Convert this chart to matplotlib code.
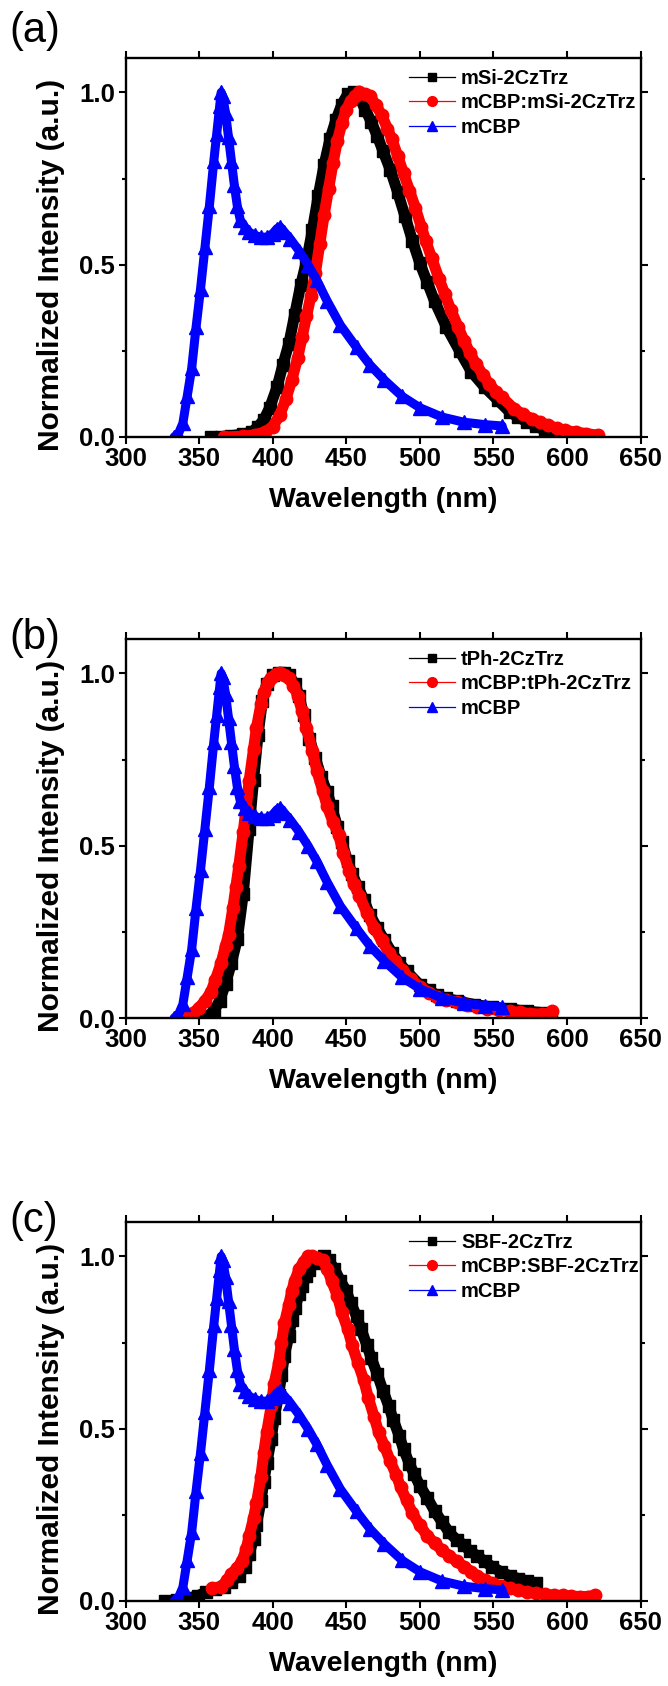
import matplotlib
matplotlib.use("Agg")
import matplotlib.pyplot as plt
from matplotlib.lines import Line2D
from matplotlib.ticker import MultipleLocator, FormatStrFormatter

plt.rcParams['font.family'] = ['Liberation Sans', 'DejaVu Sans']

# mCBP host spectrum (same trace in all three panels)
mcbp_wl = [333, 336, 339, 342, 345, 348, 351, 354, 357, 360, 362, 364, 365, 366, 368,
           370, 372, 374, 376, 378, 381, 384, 388, 392, 396, 400, 403, 405, 408, 412,
           418, 424, 430, 437, 446, 457, 466, 476, 488, 500, 515, 530, 544, 556]
mcbp_int = [0.0, 0.01, 0.04, 0.12, 0.20, 0.32, 0.43, 0.55, 0.67, 0.80, 0.88, 0.96, 1.0, 0.99, 0.94,
            0.87, 0.80, 0.73, 0.67, 0.63, 0.61, 0.595, 0.585, 0.58, 0.58, 0.59, 0.605, 0.61, 0.595, 0.575,
            0.54, 0.50, 0.455, 0.395, 0.325, 0.26, 0.21, 0.165, 0.118, 0.085, 0.058, 0.043, 0.036, 0.032]

# (a) mSi-2CzTrz
a_neat_wl = [358, 365, 372, 380, 386, 390, 394, 398, 403, 407, 411, 415, 419, 423, 427, 431, 435,
             439, 443, 447, 451, 455, 459, 463, 467, 471, 475, 480, 485, 490, 495, 500, 505, 510,
             518, 527, 535, 544, 553, 561, 567, 573, 579, 585, 591, 597, 606]
a_neat_int = [0.0, 0.001, 0.004, 0.008, 0.015, 0.03, 0.05, 0.085, 0.145, 0.21, 0.27, 0.355, 0.44,
              0.51, 0.6, 0.7, 0.79, 0.865, 0.92, 0.965, 0.995, 1.0, 0.985, 0.95, 0.915, 0.875, 0.83,
              0.775, 0.71, 0.64, 0.57, 0.505, 0.45, 0.395, 0.32, 0.25, 0.19, 0.145, 0.107, 0.073,
              0.057, 0.044, 0.031, 0.02, 0.012, 0.007, 0.002]
a_dop_wl = [367, 380, 388, 395, 400, 405, 409, 413, 417, 420, 423, 426, 429, 432, 435, 438, 441, 444,
            447, 450, 453, 456, 459, 463, 466, 470, 474, 478, 481, 485, 489, 493, 497, 501, 504, 508,
            513, 517, 521, 526, 530, 534, 538, 543, 547, 552, 556, 564, 570, 576, 582, 587, 593, 599,
            606, 613, 621]
a_dop_int = [0.0, 0.002, 0.006, 0.015, 0.03, 0.065, 0.11, 0.165, 0.23, 0.29, 0.35, 0.41, 0.475, 0.56,
             0.645, 0.72, 0.795, 0.86, 0.91, 0.95, 0.975, 0.99, 1.0, 0.995, 0.99, 0.965, 0.935, 0.895,
             0.865, 0.815, 0.765, 0.715, 0.665, 0.61, 0.57, 0.52, 0.46, 0.415, 0.37, 0.32, 0.28, 0.245,
             0.213, 0.18, 0.155, 0.13, 0.115, 0.082, 0.066, 0.053, 0.043, 0.034, 0.026, 0.019, 0.014,
             0.01, 0.005]

# (b) tPh-2CzTrz
b_neat_wl = [352, 356, 360, 364, 368, 372, 376, 380, 384, 387, 390, 393, 396, 400, 404, 408, 411, 415,
             418, 421, 425, 429, 433, 437, 440, 444, 447, 451, 454, 458, 462, 466, 471, 476, 481, 486,
             491, 500, 506, 512, 518, 525, 537, 549, 561, 573, 584, 589]
b_neat_int = [0.0, 0.005, 0.02, 0.05, 0.1, 0.16, 0.23, 0.36, 0.55, 0.69, 0.82, 0.92, 0.97, 0.995, 1.0,
              1.0, 0.995, 0.97, 0.935, 0.88, 0.81, 0.755, 0.70, 0.655, 0.615, 0.555, 0.51, 0.455, 0.418,
              0.38, 0.343, 0.30, 0.262, 0.225, 0.19, 0.16, 0.136, 0.096, 0.08, 0.066, 0.057, 0.05, 0.039,
              0.032, 0.026, 0.02, 0.015, 0.013]
b_dop_wl = [342, 346, 350, 354, 358, 361, 365, 368, 370, 373, 375, 377, 380, 382, 384, 387, 389, 392,
            394, 397, 399, 402, 405, 408, 411, 414, 417, 420, 423, 427, 430, 434, 437, 441, 445, 448,
            452, 455, 459, 464, 469, 474, 479, 483, 488, 494, 500, 506, 512, 518, 525, 532, 539, 546,
            554, 561, 568, 575, 583, 587, 590]
b_dop_int = [0.003, 0.015, 0.03, 0.05, 0.075, 0.11, 0.16, 0.21, 0.24, 0.32, 0.38, 0.44, 0.54, 0.61,
             0.687, 0.78, 0.842, 0.91, 0.946, 0.975, 0.988, 0.997, 1.0, 0.996, 0.987, 0.965, 0.936, 0.89,
             0.842, 0.775, 0.718, 0.66, 0.615, 0.57, 0.53, 0.48, 0.428, 0.39, 0.355, 0.305, 0.262, 0.225,
             0.19, 0.165, 0.138, 0.112, 0.091, 0.074, 0.06, 0.052, 0.045, 0.038, 0.032, 0.027, 0.022,
             0.019, 0.016, 0.013, 0.011, 0.012, 0.019]

# (c) SBF-2CzTrz
c_neat_wl = [327, 335, 343, 349, 355, 361, 367, 372, 377, 381, 384, 387, 389, 392, 394, 396, 399, 401,
             404, 406, 408, 411, 413, 415, 418, 420, 423, 425, 428, 431, 435, 438, 442, 446, 450, 453,
             457, 460, 464, 467, 471, 475, 479, 482, 486, 489, 493, 496, 500, 505, 510, 515, 520, 525,
             530, 534, 539, 544, 549, 555, 561, 567, 573, 579]
c_neat_int = [0.0, 0.003, 0.008, 0.015, 0.026, 0.034, 0.042, 0.055, 0.073, 0.10, 0.136, 0.18, 0.22,
              0.29, 0.346, 0.40, 0.47, 0.53, 0.597, 0.655, 0.712, 0.77, 0.817, 0.85, 0.89, 0.915, 0.942,
              0.96, 0.98, 0.99, 1.0, 0.99, 0.963, 0.93, 0.9, 0.865, 0.827, 0.79, 0.743, 0.705, 0.66,
              0.61, 0.565, 0.525, 0.48, 0.44, 0.398, 0.37, 0.335, 0.3, 0.262, 0.23, 0.199, 0.178, 0.162,
              0.145, 0.131, 0.115, 0.1, 0.085, 0.073, 0.065, 0.058, 0.052]
c_dop_wl = [359, 365, 369, 372, 376, 379, 382, 384, 387, 389, 392, 394, 396, 399, 401, 404, 406, 408,
            411, 413, 415, 418, 421, 424, 427, 430, 434, 437, 440, 444, 447, 451, 454, 458, 462, 465,
            469, 472, 476, 480, 484, 487, 491, 495, 500, 505, 510, 515, 520, 525, 530, 535, 539, 544,
            549, 555, 561, 567, 573, 579, 585, 591, 597, 603, 609, 614, 619]
c_dop_int = [0.037, 0.042, 0.06, 0.079, 0.097, 0.115, 0.15, 0.188, 0.24, 0.283, 0.36, 0.43, 0.49, 0.565,
             0.63, 0.69, 0.75, 0.806, 0.86, 0.9, 0.93, 0.963, 0.985, 1.0, 1.0, 0.995, 0.99, 0.965, 0.93,
             0.885, 0.838, 0.79, 0.743, 0.69, 0.64, 0.59, 0.534, 0.49, 0.45, 0.405, 0.366, 0.33, 0.293,
             0.255, 0.22, 0.19, 0.168, 0.148, 0.131, 0.115, 0.1, 0.085, 0.073, 0.062, 0.052, 0.044, 0.037,
             0.031, 0.026, 0.022, 0.019, 0.017, 0.016, 0.014, 0.013, 0.013, 0.016]

panels = [
    ('(a)', 'mSi-2CzTrz', a_neat_wl, a_neat_int, a_dop_wl, a_dop_int),
    ('(b)', 'tPh-2CzTrz', b_neat_wl, b_neat_int, b_dop_wl, b_dop_int),
    ('(c)', 'SBF-2CzTrz', c_neat_wl, c_neat_int, c_dop_wl, c_dop_int),
]

W, H = 668, 1686
fig = plt.figure(figsize=(W / 100, H / 100), dpi=100)

ax_left, ax_w, ax_h = 125.5, 515, 379
ax_bottoms = [437, 1018, 1601]   # pixel rows of the x axis
tag_rows = [31, 638, 1221]       # pixel rows of the panel letters

for (tag, name, nwl, nint, dwl, dint), yb, ty in zip(panels, ax_bottoms, tag_rows):
    ax = fig.add_axes([ax_left / W, (H - yb) / H, ax_w / W, ax_h / H])

    ax.plot(nwl, nint, color='black', lw=8, marker='s', ms=8, solid_capstyle='round')
    ax.plot(dwl, dint, color='red', lw=8, marker='o', ms=9, solid_capstyle='round')
    ax.plot(mcbp_wl, mcbp_int, color='blue', lw=6.5, marker='^', ms=9.5, solid_capstyle='round')

    ax.set_xlim(300, 650)
    ax.set_ylim(0, 1.1)
    ax.xaxis.set_major_locator(MultipleLocator(50))
    ax.yaxis.set_major_locator(MultipleLocator(0.5))
    ax.yaxis.set_minor_locator(MultipleLocator(0.25))
    ax.yaxis.set_major_formatter(FormatStrFormatter('%.1f'))
    ax.tick_params(which='both', direction='out', top=True, right=True, width=1.5)
    ax.tick_params(which='major', length=5, labelsize=18.5, pad=2.5)
    ax.tick_params(which='minor', length=3)
    for lab in ax.get_xticklabels() + ax.get_yticklabels():
        lab.set_fontweight('bold')
    for sp in ax.spines.values():
        sp.set_linewidth(1.7)

    ax.set_xlabel('Wavelength (nm)', fontsize=20.5, fontweight='bold', va='center')
    ax.set_ylabel('Normalized Intensity (a.u.)', fontsize=21.5, fontweight='bold', va='center')
    ax.xaxis.set_label_coords(0.5, -0.165)
    ax.yaxis.set_label_coords(-0.145, 0.455)

    handles = [
        Line2D([], [], color='black', lw=0.9, marker='s', ms=6),
        Line2D([], [], color='red', lw=0.9, marker='o', ms=7),
        Line2D([], [], color='blue', lw=0.9, marker='^', ms=7),
    ]
    ax.legend(handles, [name, 'mCBP:' + name, 'mCBP'], loc='upper left',
              bbox_to_anchor=(0.55, 0.972), frameon=False, borderpad=0, borderaxespad=0,
              handlelength=2.3, handletextpad=0.3, labelspacing=0.28,
              prop={'size': 14.5, 'weight': 'bold'})

    fig.text(9 / W, 1 - ty / H, tag, fontsize=30, va='center', ha='left')

fig.savefig('out.png', dpi=100)
